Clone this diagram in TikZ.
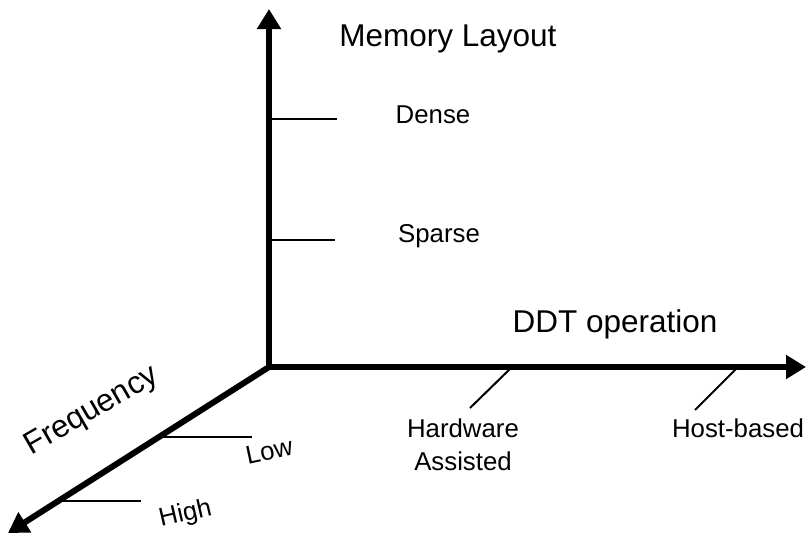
\documentclass[tikz,border=0pt]{standalone}
\usepackage{fontspec}
\setmainfont{Liberation Sans}
\usetikzlibrary{arrows.meta}
\begin{document}
\begin{tikzpicture}[x=1pt,y=-1pt,
  axis/.style={line width=6pt,-{Triangle[width=23pt,length=20pt]}},
  tickline/.style={line width=2pt},
  biglabel/.style={inner sep=0pt,font=\fontsize{31.5}{36}\selectfont},
  smalllabel/.style={inner sep=0pt,font=\fontsize{25.8}{33}\selectfont}]
\useasboundingbox (0,0) rectangle (811,533);
% axis points
\coordinate (O) at (269,367);
\coordinate (ytip) at (269,9);
\coordinate (xtip) at (806,367);
\coordinate (ztip) at (8,533);
% tick points
\coordinate (denseA) at (269,119);
\coordinate (denseB) at (337,119);
\coordinate (sparseA) at (269,240);
\coordinate (sparseB) at (335,240);
\coordinate (hwA) at (512,367);
\coordinate (hwB) at (470,408);
\coordinate (hostA) at (738,367);
\coordinate (hostB) at (695,410);
\coordinate (lowA) at (158,437);
\coordinate (lowB) at (252,437);
\coordinate (highA) at (58,501);
\coordinate (highB) at (141,501);
% ticks
\draw[tickline] (denseA) -- (denseB);
\draw[tickline] (sparseA) -- (sparseB);
\draw[tickline] (hwA) -- (hwB);
\draw[tickline] (hostA) -- (hostB);
\draw[tickline] (lowA) -- (lowB);
\draw[tickline] (highA) -- (highB);
% axes
\draw[axis] (O) -- (ytip);
\draw[axis] (O) -- (xtip);
\draw[axis] (O) -- (ztip);
% labels
\node[biglabel,anchor=base] (mem) at (448,46) {Memory Layout};
\node[smalllabel,anchor=base] (dense) at (433,123) {Dense};
\node[smalllabel,anchor=base] (sparse) at (439,242) {Sparse};
\node[biglabel,anchor=base] (ddt) at (615,332) {DDT operation};
\node[smalllabel,anchor=base,align=center] (hw) at (463,470) {Hardware\\Assisted};
\node[smalllabel,anchor=base] (host) at (738,437) {Host-based};
\node[biglabel,anchor=base,rotate=30] (freq) at (96,418) {Frequency};
\node[smalllabel,anchor=base,rotate=12] (low) at (271,460) {Low};
\node[smalllabel,anchor=base,rotate=13] (high) at (187,521) {High};
\end{tikzpicture}
\end{document}
